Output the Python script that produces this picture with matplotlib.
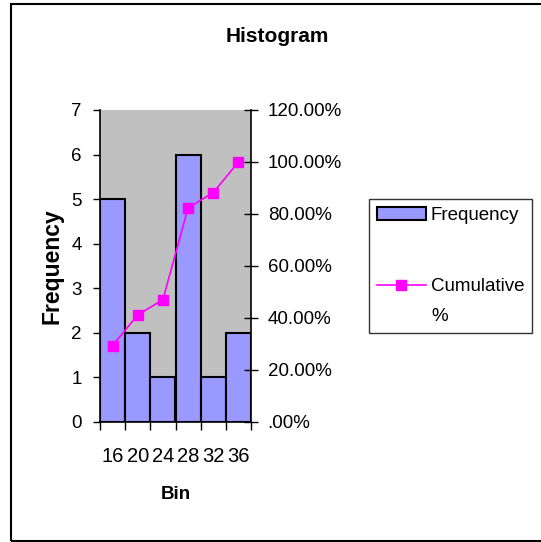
import matplotlib
matplotlib.use("Agg")
from matplotlib import pyplot as plt
from matplotlib.patches import Rectangle, Patch
from matplotlib.lines import Line2D
from matplotlib.legend_handler import HandlerLine2D
from matplotlib.transforms import Affine2D

bins = ['16', '20', '24', '28', '32', '36']
frequency = [5, 2, 1, 6, 1, 2]
cumulative = [0.2941, 0.4118, 0.4706, 0.8235, 0.8824, 1.0]
pct_ticks = [0, 0.2, 0.4, 0.6, 0.8, 1.0, 1.2]
pct_labels = ['.00%', '20.00%', '40.00%', '60.00%', '80.00%', '100.00%', '120.00%']

plt.rcParams['font.family'] = ['Liberation Sans', 'DejaVu Sans']

W, H = 541, 542
fig = plt.figure(figsize=(W / 100, H / 100), dpi=100)

# outer chart border
fig.patches.append(Rectangle((11 / W, 1 / H), 1.0, (541 - 4) / H, transform=fig.transFigure,
                             fill=False, edgecolor='black', lw=1.5, zorder=0))

ax = fig.add_axes([100 / W, (H - 422) / H, 151 / W, 312 / H])
ax.set_facecolor('#C0C0C0')
pos = list(range(len(bins)))
ax.bar(pos, frequency, width=1.0, color='#9999FF', edgecolor='black', lw=1.5, zorder=2)
ax.set_xlim(-0.5, len(bins) - 0.5)
ax.set_ylim(0, 7)
ax.set_yticks(range(8))
ax.tick_params(axis='y', direction='out', length=5, width=1, labelsize=13.5, pad=8)

# category boundaries as major ticks, labels on minor ticks
ax.set_xticks([p - 0.5 for p in pos] + [len(bins) - 0.5])
ax.set_xticklabels([])
ax.set_xticks(pos, minor=True)
ax.set_xticklabels(bins, minor=True)
ax.tick_params(axis='x', which='major', direction='out', length=6, width=1)
ax.tick_params(axis='x', which='minor', length=0, labelsize=14.5, pad=18)

for s in ['top', 'right']:
    ax.spines[s].set_visible(False)
ax.spines['left'].set_linewidth(1.2)
ax.spines['bottom'].set_linewidth(1.2)

ax.set_ylabel('Frequency', fontsize=16.5, fontweight='bold')
ax.yaxis.set_label_coords(-0.245, 0.5)
ax.set_xlabel('Bin', fontsize=13.5, fontweight='bold')
ax.xaxis.set_label_coords(0.5, -0.205)

ax2 = ax.twinx()
ax2.plot(pos, cumulative, color='#FF00FF', lw=1.2, marker='s', markersize=7, zorder=3)
ax2.set_ylim(0, 1.2)
ax2.set_yticks(pct_ticks)
ax2.set_yticklabels(pct_labels)
ax2.tick_params(axis='y', direction='inout', length=10, width=1, labelsize=13.5, pad=7)
ax2.spines['top'].set_visible(False)
ax2.spines['left'].set_visible(False)
ax2.spines['bottom'].set_visible(False)
ax2.spines['right'].set_linewidth(1.2)

fig.text(277 / W, 1 - 37 / H, 'Histogram', fontsize=15, fontweight='bold',
         ha='center', va='center')


class UpperLineHandler(HandlerLine2D):
    # put the line marker next to the first line of a two-line label
    def create_artists(self, legend, orig_handle, xdescent, ydescent, width, height, fontsize, trans):
        arts = super().create_artists(legend, orig_handle, xdescent, ydescent, width, height, fontsize, trans)
        shift = Affine2D().translate(0, 11.5 * legend.parent.figure.dpi / 72)
        for a in arts:
            a.set_transform(a.get_transform() + shift)
        return arts


cum_handle = Line2D([], [], color='#FF00FF', lw=1.2, marker='s', markersize=7)
handles = [Patch(facecolor='#9999FF', edgecolor='black', lw=1.5), cum_handle]
leg = fig.legend(handles, ['Frequency', 'Cumulative\n%'], loc='upper left',
                 bbox_to_anchor=(369 / W, 1 - 199 / H), fontsize=13.5,
                 frameon=True, fancybox=False, edgecolor='black',
                 labelspacing=2.9, handlelength=2.65, handletextpad=0.25,
                 borderpad=0.4, borderaxespad=0,
                 handler_map={cum_handle: UpperLineHandler()})
leg.get_frame().set_linewidth(1.0)
leg.get_texts()[1].set_linespacing(2.0)

plt.savefig('out.png', dpi=100)
